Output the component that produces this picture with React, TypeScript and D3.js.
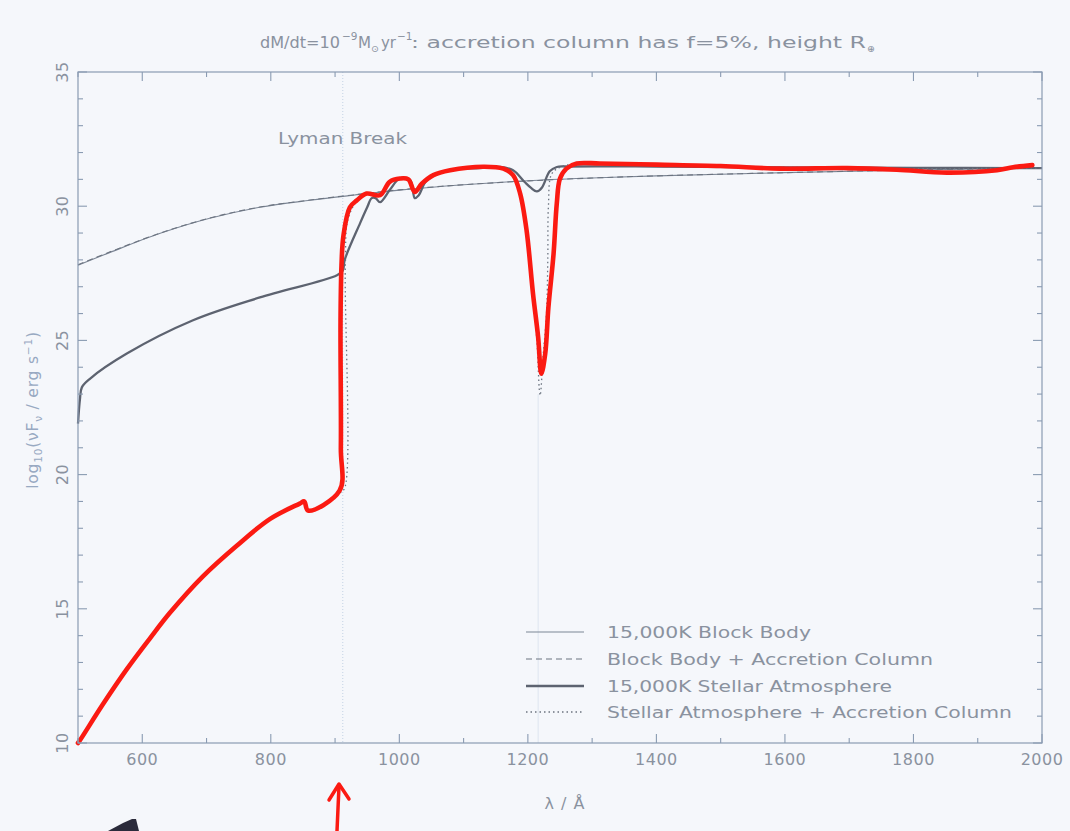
import React from "react";
import * as d3 from "d3";

// Wavelength (Å) vs log10(νFν / erg s^-1) for each model spectrum
const blackBody: [number, number][] = [
  [500, 27.8], [550, 28.28], [628, 28.99], [705, 29.55], [783, 29.96], [861, 30.22],
  [928, 30.41], [1000, 30.6], [1100, 30.8], [1200, 30.95], [1300, 31.05], [1400, 31.13],
  [1600, 31.25], [1800, 31.35], [2000, 31.42],
];

const blackBodyAccretion: [number, number][] = [
  [500, 27.82], [550, 28.3], [628, 29.0], [705, 29.56], [783, 29.97], [861, 30.23],
  [928, 30.42], [1000, 30.61], [1100, 30.8], [1200, 30.94], [1300, 31.05], [1400, 31.13],
  [1600, 31.25], [1800, 31.35], [2000, 31.42],
];

const stellarAtmosphere: [number, number][] = [
  [500, 21.9], [503, 22.8], [506, 23.25], [519, 23.58], [576, 24.51], [679, 25.75],
  [783, 26.6], [903, 27.43], [912, 27.6], [915, 28.0], [939, 29.37], [950, 29.96],
  [957, 30.3], [963, 30.3], [970, 30.15], [985, 30.6], [1001, 31.04], [1017, 30.97],
  [1024, 30.3], [1030, 30.4], [1043, 30.97], [1079, 31.34], [1125, 31.42], [1157, 31.46],
  [1177, 31.34], [1195, 30.9], [1205, 30.68], [1214, 30.55], [1222, 30.7], [1234, 31.3],
  [1245, 31.46], [1261, 31.48], [1400, 31.48], [1600, 31.45], [1800, 31.43], [2000, 31.42],
];

const stellarAccretion: [number, number][] = [
  [500, 10.0], [539, 11.45], [576, 12.75], [612, 13.9], [643, 14.85], [694, 16.2],
  [747, 17.35], [799, 18.35], [845, 18.92], [852, 19.0], [858, 18.66], [908, 19.33],
  [915, 19.5], [916, 27.8], [920, 29.5], [934, 30.2], [949, 30.47], [970, 30.41],
  [985, 30.91], [1001, 31.03], [1014, 31.0], [1024, 30.53], [1035, 30.84], [1053, 31.16],
  [1079, 31.34], [1131, 31.47], [1162, 31.4], [1177, 31.16], [1188, 30.47], [1198, 29.1],
  [1208, 26.74], [1214, 25.0], [1219, 22.95], [1224, 24.5], [1229, 26.0], [1231, 28.0],
  [1232, 30.0], [1237, 31.2], [1250, 31.45], [1276, 31.59], [1400, 31.55], [1600, 31.45],
  [1800, 31.4], [2000, 31.42],
];

// Hand-drawn red highlight tracing the accreting stellar model
const redTrace: [number, number][] = [
  [500, 10.0], [503, 10.1], [539, 11.45], [576, 12.75], [612, 13.9], [643, 14.85],
  [694, 16.2], [747, 17.35], [799, 18.35], [845, 18.92], [852, 19.0], [858, 18.66],
  [907, 19.4], [909, 21.0], [908.5, 25.7], [910, 27.8], [913, 28.9], [923, 29.96],
  [934, 30.22], [949, 30.47], [970, 30.41], [985, 30.91], [1001, 31.03], [1014, 31.0],
  [1024, 30.53], [1035, 30.84], [1053, 31.16], [1079, 31.34], [1131, 31.47], [1162, 31.4],
  [1177, 31.16], [1188, 30.47], [1198, 29.1], [1208, 26.74], [1216, 25.12], [1221, 23.76],
  [1227, 24.5], [1232, 26.24], [1240, 28.23], [1245, 30.1], [1250, 31.03], [1260, 31.4],
  [1276, 31.59], [1312, 31.59], [1400, 31.55], [1500, 31.5], [1592, 31.4], [1697, 31.42],
  [1774, 31.36], [1852, 31.25], [1930, 31.34], [1955, 31.45], [1985, 31.53],
];

const xMajorTicks = [600, 800, 1000, 1200, 1400, 1600, 1800, 2000];
const xMinorTicks = d3.range(500, 2001, 100);
const yMajorTicks = [10, 15, 20, 25, 30, 35];
const yMinorTicks = d3.range(10, 36, 1);

const legendLabels = [
  "15,000K Block Body",
  "Block Body + Accretion Column",
  "15,000K Stellar Atmosphere",
  "Stellar Atmosphere + Accretion Column",
];

const LYMAN_LIMIT = 912;
const LYMAN_ALPHA = 1216;

const W = 1070;
const H = 831;
const plot = { left: 78, right: 1042, top: 72, bottom: 743 };

const FONT = "'DejaVu Sans', sans-serif";
const AXIS = "#8a9bb2";
const TEXT = "#8a929f";
const RED = "#fb1a12";

export default function App() {
  const x = d3.scaleLinear().domain([500, 2000]).range([plot.left, plot.right]);
  const y = d3.scaleLinear().domain([10, 35]).range([plot.bottom, plot.top]);

  const line = d3
    .line<[number, number]>()
    .x((d) => x(d[0]))
    .y((d) => y(d[1]))
    .curve(d3.curveCatmullRom.alpha(0.5));

  const styles = [
    { stroke: "#7d8796", width: 1.1, dash: undefined as string | undefined },
    { stroke: "#6c7480", width: 1.1, dash: "6,4" },
    { stroke: "#5d6370", width: 2.3, dash: undefined },
    { stroke: "#6c7480", width: 1.3, dash: "1.5,3" },
  ];

  const legendRows = [632, 659, 686, 712];
  const legendLengths = [204, 326, 285, 405];

  return (
    <svg
      width={W}
      height={H}
      style={{ position: "absolute", left: 0, top: 0, display: "block" }}
      fontFamily={FONT}
    >
      <rect x={0} y={0} width={W} height={H} fill="#f5f7fb" />

      {/* title */}
      <g fill={TEXT} fontSize={15.5}>
        <text x={260} y={48} textLength={80} lengthAdjust="spacingAndGlyphs">dM/dt=10</text>
        <text x={342} y={40} fontSize={10.5}>−9</text>
        <text x={358} y={48} textLength={13} lengthAdjust="spacingAndGlyphs">M</text>
        <text x={371} y={52} fontSize={9.5}>⊙</text>
        <text x={381} y={48} textLength={15} lengthAdjust="spacingAndGlyphs">yr</text>
        <text x={397} y={40} fontSize={10.5}>−1</text>
        <text x={411} y={48} textLength={455} lengthAdjust="spacingAndGlyphs">
          : accretion column has f=5%, height R
        </text>
        <text x={867} y={52} fontSize={9.5}>⊕</text>
      </g>

      {/* reference wavelengths */}
      <line
        x1={x(LYMAN_LIMIT)} x2={x(LYMAN_LIMIT)} y1={plot.top} y2={plot.bottom}
        stroke="#c4d2e4" strokeWidth={1} strokeDasharray="1,2"
      />
      <line
        x1={x(LYMAN_ALPHA)} x2={x(LYMAN_ALPHA)} y1={y(23)} y2={plot.bottom}
        stroke="#dde5ef" strokeWidth={1}
      />
      <text x={278} y={144} fontSize={15} fill={TEXT} textLength={129} lengthAdjust="spacingAndGlyphs">
        Lyman Break
      </text>

      {/* model spectra */}
      {[blackBody, blackBodyAccretion, stellarAtmosphere, stellarAccretion].map((s, i) => (
        <path
          key={i}
          d={line(s) ?? ""}
          fill="none"
          stroke={styles[i].stroke}
          strokeWidth={styles[i].width}
          strokeDasharray={styles[i].dash}
          strokeLinejoin="round"
        />
      ))}
      <path
        d={line(redTrace) ?? ""}
        fill="none"
        stroke={RED}
        strokeWidth={4.6}
        strokeLinejoin="round"
        strokeLinecap="round"
      />

      {/* frame and ticks */}
      <rect
        x={plot.left} y={plot.top}
        width={plot.right - plot.left} height={plot.bottom - plot.top}
        fill="none" stroke={AXIS} strokeWidth={1.2}
      />
      <g stroke={AXIS} strokeWidth={1.1}>
        {xMinorTicks.map((t) => {
          const major = t % 200 === 0;
          const len = major ? 9 : 5;
          return (
            <g key={"x" + t}>
              <line x1={x(t)} x2={x(t)} y1={plot.bottom} y2={plot.bottom - len} />
              <line x1={x(t)} x2={x(t)} y1={plot.top} y2={plot.top + len} />
            </g>
          );
        })}
        {yMinorTicks.map((t) => {
          const major = t % 5 === 0;
          const len = major ? 9 : 5;
          return (
            <g key={"y" + t}>
              <line x1={plot.left} x2={plot.left + len} y1={y(t)} y2={y(t)} />
              <line x1={plot.right} x2={plot.right - len} y1={y(t)} y2={y(t)} />
            </g>
          );
        })}
      </g>

      {/* tick labels */}
      <g fill={TEXT} fontSize={16}>
        {xMajorTicks.map((t) => (
          <text key={t} x={x(t)} y={765} textAnchor="middle" letterSpacing={0.5}>
            {t}
          </text>
        ))}
        {yMajorTicks.map((t) => (
          <text
            key={t}
            transform={`translate(${68},${y(t)}) rotate(-90)`}
            textAnchor="middle"
            letterSpacing={0.5}
          >
            {t}
          </text>
        ))}
      </g>

      {/* axis titles */}
      <text x={565} y={809} fontSize={16} fill={TEXT} textAnchor="middle" letterSpacing={1}>
        λ / Å
      </text>
      <text
        transform={`translate(38,410) rotate(-90)`}
        fontSize={15.5}
        fill="#98a9c2"
        textAnchor="middle"
        letterSpacing={0.8}
      >
        log<tspan fontSize={10.5} dy={4}>10</tspan>
        <tspan dy={-4}>(νF</tspan>
        <tspan fontSize={10.5} dy={4}>ν</tspan>
        <tspan dy={-4}> / erg s</tspan>
        <tspan fontSize={10.5} dy={-6}>−1</tspan>
        <tspan dy={6}>)</tspan>
      </text>

      {/* legend */}
      {legendLabels.map((label, i) => (
        <g key={label}>
          <line
            x1={526} x2={584} y1={legendRows[i]} y2={legendRows[i]}
            stroke={styles[i].stroke}
            strokeWidth={styles[i].width}
            strokeDasharray={styles[i].dash}
          />
          <text
            x={607} y={legendRows[i] + 6}
            fontSize={16} fill={TEXT}
            textLength={legendLengths[i]} lengthAdjust="spacingAndGlyphs"
          >
            {label}
          </text>
        </g>
      ))}

      {/* pen annotations below the axis */}
      <g stroke={RED} strokeWidth={3.5} fill="none" strokeLinecap="round" strokeLinejoin="round">
        <line x1={339} y1={786} x2={337} y2={831} />
        <polyline points="329,800 339,784 349,799" />
      </g>
      <polygon points="108,831 123,823 132,819 136,819 139,831" fill="#2b2b3b" />
    </svg>
  );
}
